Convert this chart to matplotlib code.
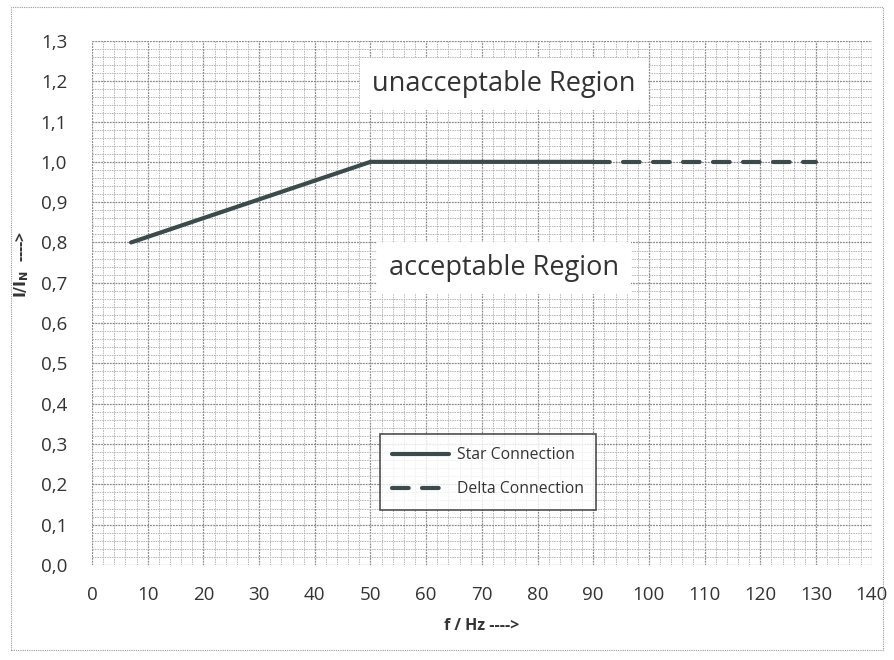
import matplotlib
matplotlib.use("Agg")
import matplotlib.pyplot as plt
from matplotlib.ticker import MultipleLocator, FuncFormatter
from matplotlib.patches import Rectangle

plt.rcParams['font.family'] = ['Open Sans', 'DejaVu Sans']

star_f = [7, 50, 90]
star_i = [0.80, 1.00, 1.00]
delta_f = [90, 130]
delta_i = [1.00, 1.00]

x_ticks = list(range(0, 141, 10))
y_ticks = [round(0.1 * k, 1) for k in range(0, 14)]

fig = plt.figure(figsize=(8.94, 6.6), dpi=100)
ax = fig.add_axes([0.103, 0.144, 0.872, 0.794])

line_color = '#3b4b4c'
ax.plot(star_f, star_i, color=line_color, lw=3.0, solid_capstyle='round', label='Star Connection', zorder=5)
ax.plot(delta_f, delta_i, color=line_color, lw=3.0, ls=(0, (4.0, 3.2)), dash_capstyle='round',
        label='Delta Connection', zorder=5)

ax.set_xlim(0, 140)
ax.set_ylim(0, 1.3)
ax.set_xticks(x_ticks)
ax.set_yticks(y_ticks)
ax.xaxis.set_minor_locator(MultipleLocator(2))
ax.yaxis.set_minor_locator(MultipleLocator(0.02))
ax.yaxis.set_major_formatter(FuncFormatter(lambda v, p: f"{v:.1f}".replace('.', ',')))

ax.grid(which='major', color='#8a8a8a', lw=0.9, ls=(0, (1.5, 0.8)))
ax.grid(which='minor', color='#b5b5b5', lw=0.7, ls=(0, (1.5, 1.0)))
ax.set_axisbelow(True)
for s in ax.spines.values():
    s.set_visible(False)
ax.tick_params(axis='both', which='both', length=0, labelsize=13.5, colors='#333333')
ax.tick_params(axis='y', pad=18)
ax.tick_params(axis='x', pad=15)

ax.set_xlabel('f / Hz ---->', fontsize=11.5, fontweight='bold', color='#333333', labelpad=10)
ax.set_ylabel(r'$\mathbf{I/I_N}$  ---->', fontsize=11.5, fontweight='bold', color='#333333')
ax.yaxis.set_label_coords(-0.078, 0.573)

bbox = dict(boxstyle='square,pad=0.45', fc='white', ec='none')
ax.text(74, 1.193, 'unacceptable Region', fontsize=19.5, color='#333333', ha='center', va='center', bbox=bbox, zorder=6)
ax.text(74, 0.737, 'acceptable Region', fontsize=19.5, color='#333333', ha='center', va='center', bbox=bbox, zorder=6)

leg = ax.legend(loc='upper left', bbox_to_anchor=(0.369, 0.249), borderaxespad=0,
                fontsize=11.3, frameon=True, fancybox=False, edgecolor='#222222', handlelength=3.6,
                labelspacing=1.15, borderpad=0.8, handletextpad=0.5)
leg.get_frame().set_linewidth(1.2)
for t in leg.get_texts():
    t.set_color('#333333')

fig.patches.append(Rectangle((0.012, 0.015), 0.976, 0.975, transform=fig.transFigure, fill=False,
                             ec='#999999', lw=0.8, ls=(0, (1, 1))))

fig.savefig('out.png', dpi=100)
